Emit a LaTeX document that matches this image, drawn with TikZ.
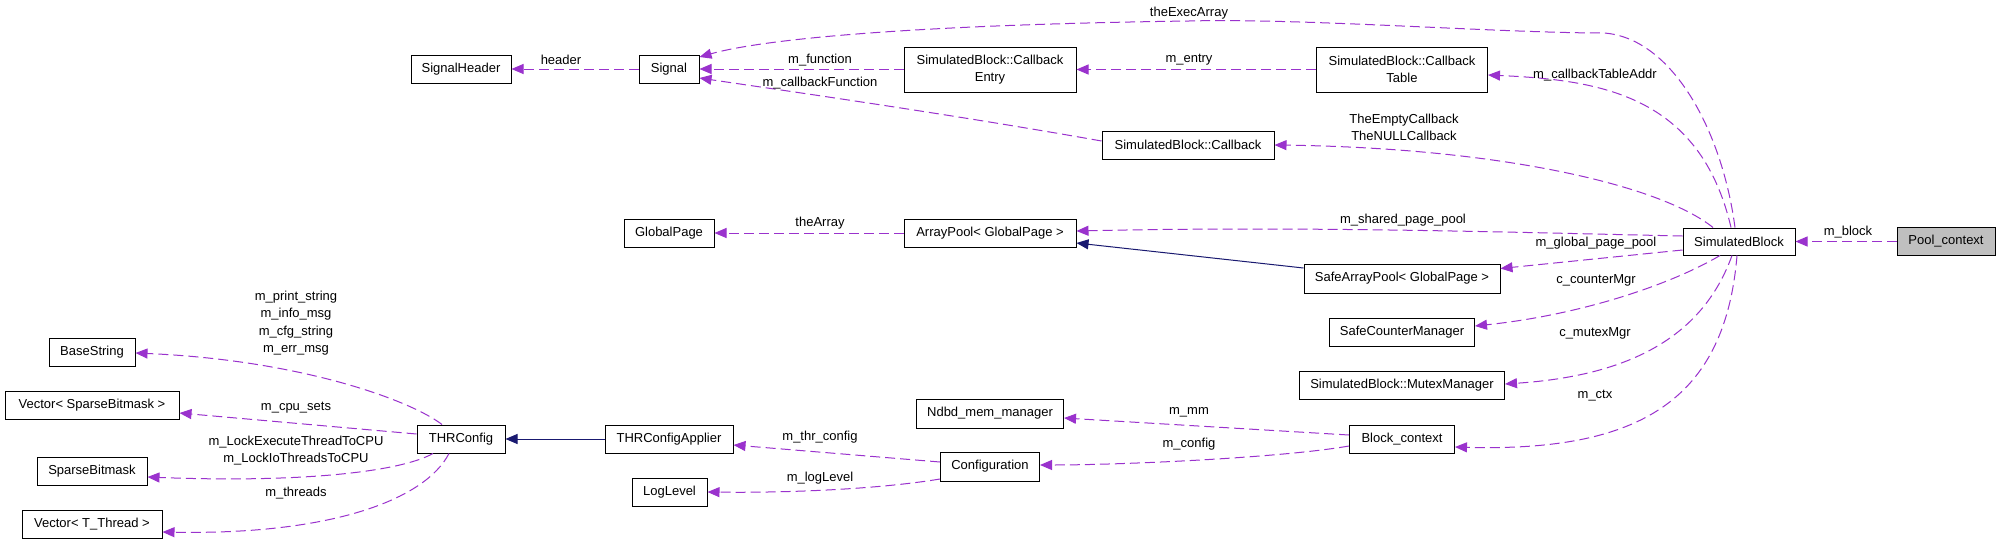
\documentclass[tikz,border=0pt]{standalone}
\usepackage{fontspec}
\setmainfont{Liberation Sans}
\usetikzlibrary{arrows.meta,calc}
\newcommand{\dgfont}{\fontsize{13}{17.3}\selectfont}
\definecolor{depcol}{HTML}{9A32CD}
\definecolor{inhcol}{HTML}{191970}
\definecolor{poolgray}{HTML}{BFBFBF}
\begin{document}
\begin{tikzpicture}[x=1pt,y=-1pt,
  box/.style={draw=black,line width=1pt,fill=white,inner sep=0pt,minimum height=28pt,font=\dgfont,align=center},
  dep/.style={draw=depcol,line width=1pt,dash pattern=on 10pt off 5pt,-{Triangle[length=12pt,width=10pt]}},
  inh/.style={draw=inhcol,line width=1pt,-{Triangle[length=12pt,width=10pt]}},
  lbl/.style={font=\dgfont,inner sep=0pt,align=center}]
\fill[white] (0,0) rectangle (2005,544);
\useasboundingbox (0,0) rectangle (2005,544);

% nodes
\node[box,minimum width=100pt] (SignalHeader) at (461,69) {SignalHeader};
\node[box,minimum width=60pt] (Signal) at (669,69) {Signal};
\node[box,minimum width=172pt,minimum height=45pt] (CBEntry) at (990,69.5) {SimulatedBlock::Callback\\Entry};
\node[box,minimum width=171pt,minimum height=45pt] (CBTable) at (1402,69.5) {SimulatedBlock::Callback\\Table};
\node[box,minimum width=172pt] (Callback) at (1188,145) {SimulatedBlock::Callback};
\node[box,minimum width=90pt] (GlobalPage) at (669,233) {GlobalPage};
\node[box,minimum width=172pt] (ArrayPool) at (990,233) {ArrayPool{<} GlobalPage {>}};
\node[box,minimum width=112pt,minimum height=27pt] (SimBlock) at (1739,241.5) {SimulatedBlock};
\node[box,minimum width=98pt,fill=poolgray] (Pool) at (1946,241.5) {Pool\_context};
\node[box,minimum width=196pt,minimum height=29pt] (SafeArrayPool) at (1402,278.5) {SafeArrayPool{<} GlobalPage {>}};
\node[box,minimum width=145pt] (SafeCounter) at (1402,332) {SafeCounterManager};
\node[box,minimum width=205pt] (Mutex) at (1402,385) {SimulatedBlock::MutexManager};
\node[box,minimum width=147pt,minimum height=29pt] (Ndbd) at (990,413.5) {Ndbd\_mem\_manager};
\node[box,minimum width=105pt] (BlockCtx) at (1402,439) {Block\_context};
\node[box,minimum width=88pt] (THRConfig) at (461,439) {THRConfig};
\node[box,minimum width=128pt] (THRApplier) at (669,439) {THRConfigApplier};
\node[box,minimum width=99pt,minimum height=29pt] (Configuration) at (990,466.5) {Configuration};
\node[box,minimum width=75pt] (LogLevel) at (669.5,492) {LogLevel};
\node[box,minimum width=86pt] (BaseString) at (92,352) {BaseString};
\node[box,minimum width=174pt] (VecSB) at (92,405) {Vector{<} SparseBitmask {>}};
\node[box,minimum width=110pt] (SparseBitmask) at (92,471) {SparseBitmask};
\node[box,minimum width=140pt] (VecThread) at (92,524) {Vector{<} T\_Thread {>}};

% edges
\draw[dep] (Signal.west) -- (SignalHeader.east);
\draw[dep] (CBEntry.west |- Signal.east) -- (Signal.east);
\draw[dep] (CBTable.west) -- (CBEntry.east);
\draw[dep] ($(Callback.west)+(0,-4)$) .. controls (950,114) and (780,90) .. ($(Signal.east)+(0,9)$);
\draw[dep] ($(SimBlock.north)+(-4,0)$) .. controls (1722,130) and (1672,38) .. (1604,33)
   .. controls (1500,33) and (1300,18) .. (1189,21)
   .. controls (900,25) and (760,40) .. ($(Signal.east)+(0,-12)$);
\draw[dep] ($(SimBlock.north)+(-8,0)$) .. controls (1700,95) and (1600,80) .. ($(CBTable.east)+(0,5.5)$);
\draw[dep] ($(SimBlock.north)+(-26,0)$) .. controls (1660,185) and (1500,148) .. (Callback.east);
\draw[dep] ($(SimBlock.west)+(0,-5.5)$) .. controls (1500,232) and (1300,226) .. ($(ArrayPool.east)+(0,-2)$);
\draw[dep] ($(SimBlock.west)+(0,8.5)$) -- ($(SafeArrayPool.east)+(0,-10)$);
\draw[dep] (Pool.west) -- (SimBlock.east);
\draw[dep] ($(SimBlock.south)+(-19,0)$) .. controls (1670,285) and (1580,315) .. ($(SafeCounter.east)+(0,-6)$);
\draw[dep] ($(SimBlock.south)+(-7,0)$) .. controls (1705,330) and (1640,375) .. ($(Mutex.east)+(0,-1)$);
\draw[dep] ($(SimBlock.south)+(-2,0)$) .. controls (1725,400) and (1640,452) .. ($(BlockCtx.east)+(0,8)$);
\draw[dep] ($(BlockCtx.west)+(0,-4)$) -- ($(Ndbd.east)+(0,4.5)$);
\draw[dep] ($(BlockCtx.west)+(0,7)$) .. controls (1280,458) and (1120,465) .. ($(Configuration.east)+(0,-1.5)$);
\draw[dep] ($(Configuration.west)+(0,-4.5)$) -- ($(THRApplier.east)+(0,6)$);
\draw[dep] ($(Configuration.west)+(0,12.5)$) .. controls (880,489) and (790,493) .. (LogLevel.east);
\draw[inh] (THRApplier.west) -- (THRConfig.east);
\draw[inh] ($(SafeArrayPool.west)+(0,-10.5)$) -- ($(ArrayPool.east)+(0,10)$);
\draw[dep] (ArrayPool.west) -- (GlobalPage.east);
\draw[dep] ($(THRConfig.north)+(-19,0)$) .. controls (410,400) and (300,360) .. ($(BaseString.east)+(0,1)$);
\draw[dep] ($(THRConfig.west)+(0,-5)$) -- ($(VecSB.east)+(0,8)$);
\draw[dep] ($(THRConfig.south)+(-28,0)$) .. controls (400,472) and (300,483) .. ($(SparseBitmask.east)+(0,6)$);
\draw[dep] ($(THRConfig.south)+(-12,0)$) .. controls (425,500) and (330,535) .. ($(VecThread.east)+(0,8)$);

% labels
\node[lbl] (lheader) at (561,60) {header};
\node[lbl] (lfunction) at (820,60) {m\_function};
\node[lbl] (lentry) at (1189,60) {m\_entry};
\node[lbl] (lcbfunc) at (820,83) {m\_callbackFunction};
\node[lbl] (lexec) at (1189,13) {theExecArray};
\node[lbl] (lcbtable) at (1595,75) {m\_callbackTableAddr};
\node[lbl] (lempty) at (1404,127.5) {TheEmptyCallback\\TheNULLCallback};
\node[lbl] (larray) at (820,223) {theArray};
\node[lbl] (lshared) at (1403,220) {m\_shared\_page\_pool};
\node[lbl] (lglobal) at (1596,243) {m\_global\_page\_pool};
\node[lbl] (lblock) at (1848,232) {m\_block};
\node[lbl] (lcounter) at (1596,280) {c\_counterMgr};
\node[lbl] (lmutex) at (1595,333) {c\_mutexMgr};
\node[lbl] (lctx) at (1595,396) {m\_ctx};
\node[lbl] (lmm) at (1189,412) {m\_mm};
\node[lbl] (lconfig) at (1189,444) {m\_config};
\node[lbl] (lthr) at (820,437) {m\_thr\_config};
\node[lbl] (llog) at (820,478) {m\_logLevel};
\node[lbl] (lstrings) at (296,323) {m\_print\_string\\m\_info\_msg\\m\_cfg\_string\\m\_err\_msg};
\node[lbl] (lcpu) at (296,408) {m\_cpu\_sets};
\node[lbl] (llock) at (296,450.5) {m\_LockExecuteThreadToCPU\\m\_LockIoThreadsToCPU};
\node[lbl] (lthreads) at (296,493) {m\_threads};
\end{tikzpicture}
\end{document}
